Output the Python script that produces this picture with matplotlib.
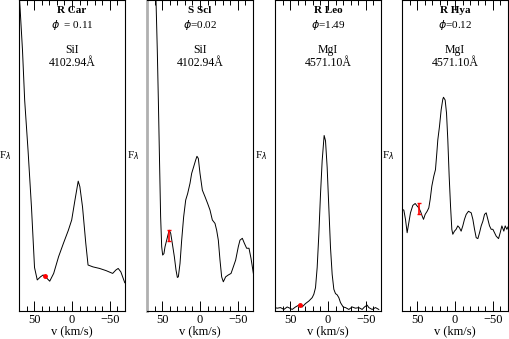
import matplotlib
matplotlib.use("Agg")
import matplotlib.pyplot as plt
from matplotlib.ticker import MultipleLocator

# ---------------- data ----------------
stars = ["R Car", "S Scl", "R Leo", "R Hya"]
phases = ["$\\phi$  = 0.11", "$\\phi$=0.02", "$\\phi$=1.49", "$\\phi$=0.12"]
lines_ = ["SiI", "SiI", "MgI", "MgI"]
wavelengths = ["4102.94Å", "4102.94Å", "4571.10Å", "4571.10Å"]

v_rcar = [70, 68.8, 65.4, 62.5, 58.0, 53.5, 49.5, 45.9, 41.6, 38.1, 35.1, 29.4, 24.2, 17.7,
          11.3, 4.8, 0.4, -3.9, -8.2, -10.4, -13.9, -18.2, -21.2, -27.7, -36.4, -45.0,
          -53.7, -58.0, -61.0, -64.5, -69.7]
f_rcar = [103, 98.4, 84.0, 67.8, 51.5, 33.3, 14.0, 10.0, 11.0, 11.6, 11.0, 9.6, 12.1, 17.5,
          21.8, 26.0, 29.3, 35.7, 41.8, 40.0, 33.5, 21.8, 14.8, 14.2, 13.7, 13.0,
          12.1, 13.2, 13.7, 12.6, 9.1]

v_sscl = [58.1, 56.4, 55.0, 53.3, 52.0, 50.6, 49.3, 47.6, 46.2, 44.0, 41.8, 40.5, 38.7, 36.6,
          33.9, 31.7, 29.9, 28.6, 26.4, 24.2, 21.6, 18.9, 16.3, 13.2, 11.0, 8.4, 5.7, 4.0,
          2.2, 0.0, -3.1, -6.6, -10.1, -13.2, -16.3, -19.8, -22.0, -24.2, -26.4, -28.6,
          -30.8, -33.9, -37.4, -41.0, -44.0, -47.1, -50.6, -52.8, -55.9, -58.6, -61.6,
          -64.7, -67.4, -70.5]
f_sscl = [100, 83.9, 67.8, 46.4, 30.3, 20.7, 18.0, 18.5, 20.7, 22.8, 25.0, 26.0, 25.0, 21.8,
          17.5, 13.2, 10.8, 11.0, 15.3, 22.8, 30.3, 35.7, 37.8, 41.1, 44.3, 46.4, 48.6, 49.8,
          49.1, 44.3, 38.9, 36.8, 34.6, 32.5, 29.3, 28.2, 26.0, 22.8, 16.4, 11.0,
          9.4, 11.0, 11.6, 12.1, 14.2, 16.4, 20.7, 22.8, 23.4, 21.8, 20.2,
          20.2, 16.9, 12.1]

v_rleo = [70.2, 67.1, 62.7, 58.3, 53.9, 50.4, 47.3, 42.9, 38.5, 34.1, 29.7, 25.3, 20.9, 18.7,
          16.5, 14.3, 12.1, 9.9, 7.7, 5.1, 3.3, 1.1, -1.1, -3.3, -5.5, -7.7, -9.9, -12.1,
          -14.3, -16.5, -20.0, -23.1, -27.5, -31.9, -36.3, -40.7, -45.1, -48.2, -51.7,
          -53.9, -58.3, -62.7, -67.1]
f_rleo = [1.1, 0.9, 1.1, 0.5, 1.3, 0.9, 0.5, 1.3, 1.9, 1.3, 2.4, 3.2, 4.3, 5.4,
          7.5, 14.0, 24.7, 37.6, 48.4, 56.5, 54.8, 46.2, 33.3, 20.4, 11.8, 7.0, 5.6, 5.2,
          4.3, 2.7, 1.3, 1.1, 0.5, 1.3, 0.9, 1.1, 0.5, 1.3, 1.9,
          1.1, 0.5, 1.1, 0.5]

v_rhya = [70.2, 67.6, 65.4, 63.2, 61.0, 58.8, 55.7, 52.6, 50.0, 47.8, 45.6, 43.4, 41.6, 39.4,
          36.8, 34.6, 32.8, 30.6, 28.0, 25.8, 24.0, 22.7, 20.5, 18.3, 16.1, 15.2, 13.0, 11.2,
          9.5, 7.7, 5.9, 4.2, 2.9, 0.7, -1.5, -3.7, -5.9, -8.1, -10.3, -12.5, -14.8, -17.8,
          -21.4, -23.6, -25.8, -28.0, -30.2, -32.4, -34.6, -36.8, -39.0, -41.2, -43.4,
          -45.6, -47.8, -50.0, -52.2, -54.4, -57.5, -59.7, -61.9, -64.5, -66.3, -68.5, -70.7]
f_rhya = [32.7, 32.5, 29.5, 25.2, 28.4, 31.6, 34.0, 34.6, 33.8, 33.2, 32.1, 30.6, 29.5, 31.1,
          32.1, 33.2, 35.9, 40.2, 43.4, 45.5, 50.9, 55.1, 59.4, 64.7, 68.2, 68.8, 67.9, 63.7,
          55.1, 43.4, 33.8, 26.3, 24.7, 25.7, 26.3, 27.4, 26.8, 25.7, 27.4, 29.5, 31.1, 32.1,
          31.6, 29.5, 26.3, 23.6, 23.3, 25.2, 27.4, 28.9, 31.1, 31.6, 29.5,
          27.4, 26.3, 26.3, 25.2, 24.1, 23.3, 25.2, 27.4, 25.7, 27.4, 26.3, 27.4]

velocities = [v_rcar, v_sscl, v_rleo, v_rhya]
fluxes = [f_rcar, f_sscl, f_rleo, f_rhya]

# red markers (velocity, flux, error)
mark_v = [35.7, 41.0, 37.0, 47.8]
mark_f = [11.3, 24.4, 1.9, 33.0]
mark_e = [0.0, 1.8, 0.0, 1.8]

# ---------------- plot ----------------
W, H = 509, 339
fig = plt.figure(figsize=(W / 100, H / 100), dpi=100)
serif = ["Liberation Serif", "DejaVu Serif"]

lefts = [19, 147, 275, 402]
pw, ph = 106, 311
for i in range(4):
    ax = fig.add_axes([lefts[i] / W, (H - ph) / H, pw / W, ph / H - 0.001])
    ax.plot(velocities[i], fluxes[i], color="black", lw=0.7)
    if mark_e[i] > 0:
        ax.errorbar([mark_v[i]], [mark_f[i]], yerr=[mark_e[i]], fmt="none",
                    ecolor="red", elinewidth=1.2, capsize=1.5)
    else:
        ax.plot([mark_v[i]], [mark_f[i]], "o", color="red", ms=2.5)
    ax.set_xlim(70, -70)
    ax.set_ylim(0, 100)
    ax.xaxis.set_major_locator(MultipleLocator(50))
    ax.xaxis.set_minor_locator(MultipleLocator(10))
    ax.tick_params(axis="x", which="both", direction="in", top=True, bottom=True,
                   labelsize=9, pad=2)
    ax.tick_params(axis="x", which="major", length=7, width=0.7)
    ax.tick_params(axis="x", which="minor", length=3.5, width=0.7)
    ax.set_yticks([])
    for lab in ax.get_xticklabels():
        lab.set_family(serif)
    for sp in ax.spines.values():
        sp.set_linewidth(0.8)
    if i == 1:
        ax.spines["left"].set_color("#b0b0b0")
        ax.spines["left"].set_linewidth(2)
    ax.set_xlabel("v (km/s)", fontsize=9, family=serif, labelpad=0)
    ax.text(-0.13, 0.5, "F$_\\lambda$", transform=ax.transAxes, fontsize=8,
            family=serif, ha="center", va="center")
    ax.text(0.5, 0.966, stars[i], transform=ax.transAxes, fontsize=8,
            family=serif, weight="bold", ha="center", va="center")
    ax.text(0.5, 0.921, phases[i], transform=ax.transAxes, fontsize=8,
            family=serif, ha="center", va="center")
    ax.text(0.5, 0.839, lines_[i], transform=ax.transAxes, fontsize=8.5,
            family=serif, ha="center", va="center")
    ax.text(0.5, 0.797, wavelengths[i], transform=ax.transAxes, fontsize=8.5,
            family=serif, ha="center", va="center")

fig.savefig("out.png", dpi=100)
